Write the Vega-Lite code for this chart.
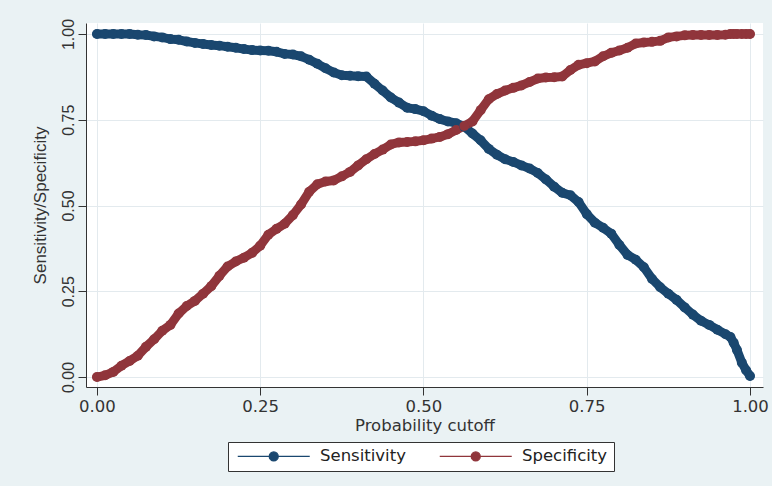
{
  "$schema": "https://vega.github.io/schema/vega-lite/v6.json",
  "width": 677,
  "height": 364,
  "autosize": {"type": "none"},
  "padding": {"left": 86, "top": 23, "right": 9, "bottom": 99},
  "background": "#eaf2f4",
  "config": {"view": {"fill": "white", "stroke": null}, "font": "DejaVu Sans"},
  "data": {"values": [
    {"c": 0, "Sensitivity": 1.0, "Specificity": 0.0},
    {"c": 0.0125, "Sensitivity": 1.0, "Specificity": 0.005},
    {"c": 0.025, "Sensitivity": 1.0, "Specificity": 0.015},
    {"c": 0.0375, "Sensitivity": 1.0, "Specificity": 0.033},
    {"c": 0.05, "Sensitivity": 1.0, "Specificity": 0.047},
    {"c": 0.0625, "Sensitivity": 0.998, "Specificity": 0.062},
    {"c": 0.075, "Sensitivity": 0.997, "Specificity": 0.088},
    {"c": 0.0875, "Sensitivity": 0.993, "Specificity": 0.11},
    {"c": 0.1, "Sensitivity": 0.99, "Specificity": 0.135},
    {"c": 0.1125, "Sensitivity": 0.985, "Specificity": 0.152},
    {"c": 0.125, "Sensitivity": 0.983, "Specificity": 0.185},
    {"c": 0.1375, "Sensitivity": 0.978, "Specificity": 0.207},
    {"c": 0.15, "Sensitivity": 0.974, "Specificity": 0.222},
    {"c": 0.1625, "Sensitivity": 0.971, "Specificity": 0.243},
    {"c": 0.175, "Sensitivity": 0.968, "Specificity": 0.265},
    {"c": 0.1875, "Sensitivity": 0.966, "Specificity": 0.295},
    {"c": 0.2, "Sensitivity": 0.963, "Specificity": 0.322},
    {"c": 0.2125, "Sensitivity": 0.96, "Specificity": 0.337},
    {"c": 0.225, "Sensitivity": 0.956, "Specificity": 0.348},
    {"c": 0.2375, "Sensitivity": 0.953, "Specificity": 0.362},
    {"c": 0.25, "Sensitivity": 0.952, "Specificity": 0.383},
    {"c": 0.2625, "Sensitivity": 0.951, "Specificity": 0.415},
    {"c": 0.275, "Sensitivity": 0.948, "Specificity": 0.432},
    {"c": 0.2875, "Sensitivity": 0.942, "Specificity": 0.447},
    {"c": 0.3, "Sensitivity": 0.94, "Specificity": 0.472},
    {"c": 0.3125, "Sensitivity": 0.935, "Specificity": 0.503},
    {"c": 0.325, "Sensitivity": 0.925, "Specificity": 0.54},
    {"c": 0.3375, "Sensitivity": 0.913, "Specificity": 0.562},
    {"c": 0.35, "Sensitivity": 0.9, "Specificity": 0.57},
    {"c": 0.3625, "Sensitivity": 0.888, "Specificity": 0.573},
    {"c": 0.375, "Sensitivity": 0.88, "Specificity": 0.585},
    {"c": 0.3875, "Sensitivity": 0.878, "Specificity": 0.598},
    {"c": 0.4, "Sensitivity": 0.877, "Specificity": 0.617},
    {"c": 0.4125, "Sensitivity": 0.876, "Specificity": 0.635},
    {"c": 0.425, "Sensitivity": 0.855, "Specificity": 0.65},
    {"c": 0.4375, "Sensitivity": 0.835, "Specificity": 0.663},
    {"c": 0.45, "Sensitivity": 0.815, "Specificity": 0.678},
    {"c": 0.4625, "Sensitivity": 0.8, "Specificity": 0.684},
    {"c": 0.475, "Sensitivity": 0.785, "Specificity": 0.685},
    {"c": 0.4875, "Sensitivity": 0.781, "Specificity": 0.687},
    {"c": 0.5, "Sensitivity": 0.775, "Specificity": 0.69},
    {"c": 0.5125, "Sensitivity": 0.762, "Specificity": 0.695},
    {"c": 0.525, "Sensitivity": 0.752, "Specificity": 0.7},
    {"c": 0.5375, "Sensitivity": 0.745, "Specificity": 0.708},
    {"c": 0.55, "Sensitivity": 0.74, "Specificity": 0.72},
    {"c": 0.5625, "Sensitivity": 0.73, "Specificity": 0.732},
    {"c": 0.575, "Sensitivity": 0.71, "Specificity": 0.745},
    {"c": 0.5875, "Sensitivity": 0.69, "Specificity": 0.778},
    {"c": 0.6, "Sensitivity": 0.665, "Specificity": 0.81},
    {"c": 0.6125, "Sensitivity": 0.648, "Specificity": 0.825},
    {"c": 0.625, "Sensitivity": 0.635, "Specificity": 0.835},
    {"c": 0.6375, "Sensitivity": 0.627, "Specificity": 0.843},
    {"c": 0.65, "Sensitivity": 0.617, "Specificity": 0.85},
    {"c": 0.6625, "Sensitivity": 0.608, "Specificity": 0.86},
    {"c": 0.675, "Sensitivity": 0.595, "Specificity": 0.87},
    {"c": 0.6875, "Sensitivity": 0.576, "Specificity": 0.873},
    {"c": 0.7, "Sensitivity": 0.555, "Specificity": 0.874},
    {"c": 0.7125, "Sensitivity": 0.537, "Specificity": 0.876},
    {"c": 0.725, "Sensitivity": 0.53, "Specificity": 0.895},
    {"c": 0.7375, "Sensitivity": 0.51, "Specificity": 0.91},
    {"c": 0.75, "Sensitivity": 0.475, "Specificity": 0.915},
    {"c": 0.7625, "Sensitivity": 0.45, "Specificity": 0.92},
    {"c": 0.775, "Sensitivity": 0.435, "Specificity": 0.935},
    {"c": 0.7875, "Sensitivity": 0.418, "Specificity": 0.945},
    {"c": 0.8, "Sensitivity": 0.385, "Specificity": 0.952},
    {"c": 0.8125, "Sensitivity": 0.356, "Specificity": 0.96},
    {"c": 0.825, "Sensitivity": 0.342, "Specificity": 0.972},
    {"c": 0.8375, "Sensitivity": 0.32, "Specificity": 0.975},
    {"c": 0.85, "Sensitivity": 0.286, "Specificity": 0.977},
    {"c": 0.8625, "Sensitivity": 0.262, "Specificity": 0.98},
    {"c": 0.875, "Sensitivity": 0.243, "Specificity": 0.99},
    {"c": 0.8875, "Sensitivity": 0.225, "Specificity": 0.993},
    {"c": 0.9, "Sensitivity": 0.203, "Specificity": 0.996},
    {"c": 0.9125, "Sensitivity": 0.182, "Specificity": 0.997},
    {"c": 0.925, "Sensitivity": 0.164, "Specificity": 0.997},
    {"c": 0.9375, "Sensitivity": 0.152, "Specificity": 0.997},
    {"c": 0.95, "Sensitivity": 0.138, "Specificity": 0.997},
    {"c": 0.9625, "Sensitivity": 0.125, "Specificity": 0.998},
    {"c": 0.97, "Sensitivity": 0.117, "Specificity": 1.0},
    {"c": 0.975, "Sensitivity": 0.1, "Specificity": 1.0},
    {"c": 0.98, "Sensitivity": 0.079, "Specificity": 1.0},
    {"c": 0.9875, "Sensitivity": 0.042, "Specificity": 1.0},
    {"c": 0.994, "Sensitivity": 0.02, "Specificity": 1.0},
    {"c": 1.0, "Sensitivity": 0.003, "Specificity": 1.0}
  ]},
  "transform": [{"fold": ["Sensitivity", "Specificity"], "as": ["series", "value"]}],
  "mark": {"type": "line", "strokeWidth": 9, "strokeCap": "round", "strokeJoin": "round",
           "point": {"filled": true, "size": 100, "opacity": 1}},
  "encoding": {
    "x": {
      "field": "c", "type": "quantitative",
      "scale": {"domain": [-0.0168, 1.0199], "nice": false, "zero": false},
      "axis": {
        "title": "Probability cutoff", "values": [0, 0.25, 0.5, 0.75, 1], "format": ".2f",
        "tickSize": 8, "tickColor": "#333", "domainColor": "#333", "tickWidth": 1, "domainWidth": 1,
        "labelFont": "DejaVu Sans", "labelFontSize": 16.5, "labelColor": "#333", "labelPadding": 3,
        "titleFont": "DejaVu Sans", "titleFontSize": 16.5, "titleFontWeight": "normal", "titleColor": "#333",
        "titleY": 30, "titleBaseline": "top",
        "grid": true, "gridColor": "#e3eaee", "gridWidth": 1
      }
    },
    "y": {
      "field": "value", "type": "quantitative",
      "scale": {"domain": [-0.029, 1.032], "nice": false, "zero": false},
      "axis": {
        "title": "Sensitivity/Specificity", "values": [0, 0.25, 0.5, 0.75, 1], "format": ".2f",
        "tickSize": 8, "tickColor": "#333", "domainColor": "#333", "tickWidth": 1, "domainWidth": 1,
        "labelFont": "Liberation Sans", "labelFontSize": 16, "labelColor": "#333", "labelPadding": 5,
        "labelAngle": -90, "labelAlign": "center", "labelBaseline": "alphabetic",
        "titleFont": "Liberation Sans", "titleFontSize": 17, "titleFontWeight": "normal", "titleColor": "#333",
        "titleX": -41, "titleBaseline": "alphabetic",
        "grid": true, "gridColor": "#e3eaee", "gridWidth": 1
      }
    },
    "color": {
      "field": "series", "type": "nominal",
      "scale": {"domain": ["Sensitivity", "Specificity"], "range": ["#1a476f", "#90353b"]},
      "legend": {
        "title": null, "orient": "none", "legendX": 142, "legendY": 419, "direction": "horizontal",
        "symbolType": "M-8,0L8,0M1,0A1,1,0,1,1,-1,0A1,1,0,1,1,1,0Z",
        "symbolSize": 81, "symbolOffset": 31.5, "symbolStrokeWidth": 1.3, "symbolOpacity": 1,
        "labelFont": "DejaVu Sans", "labelFontSize": 16.5, "labelColor": "#222", "labelOffset": 38, "labelLimit": 300,
        "columnPadding": 30, "padding": 6, "strokeColor": "#333", "fillColor": "white",
        "encode": {"symbols": {"update": {
          "fill": {"scale": "color", "field": "value"},
          "stroke": {"scale": "color", "field": "value"},
          "strokeWidth": {"value": 1.3}
        }}}
      }
    }
  }
}
